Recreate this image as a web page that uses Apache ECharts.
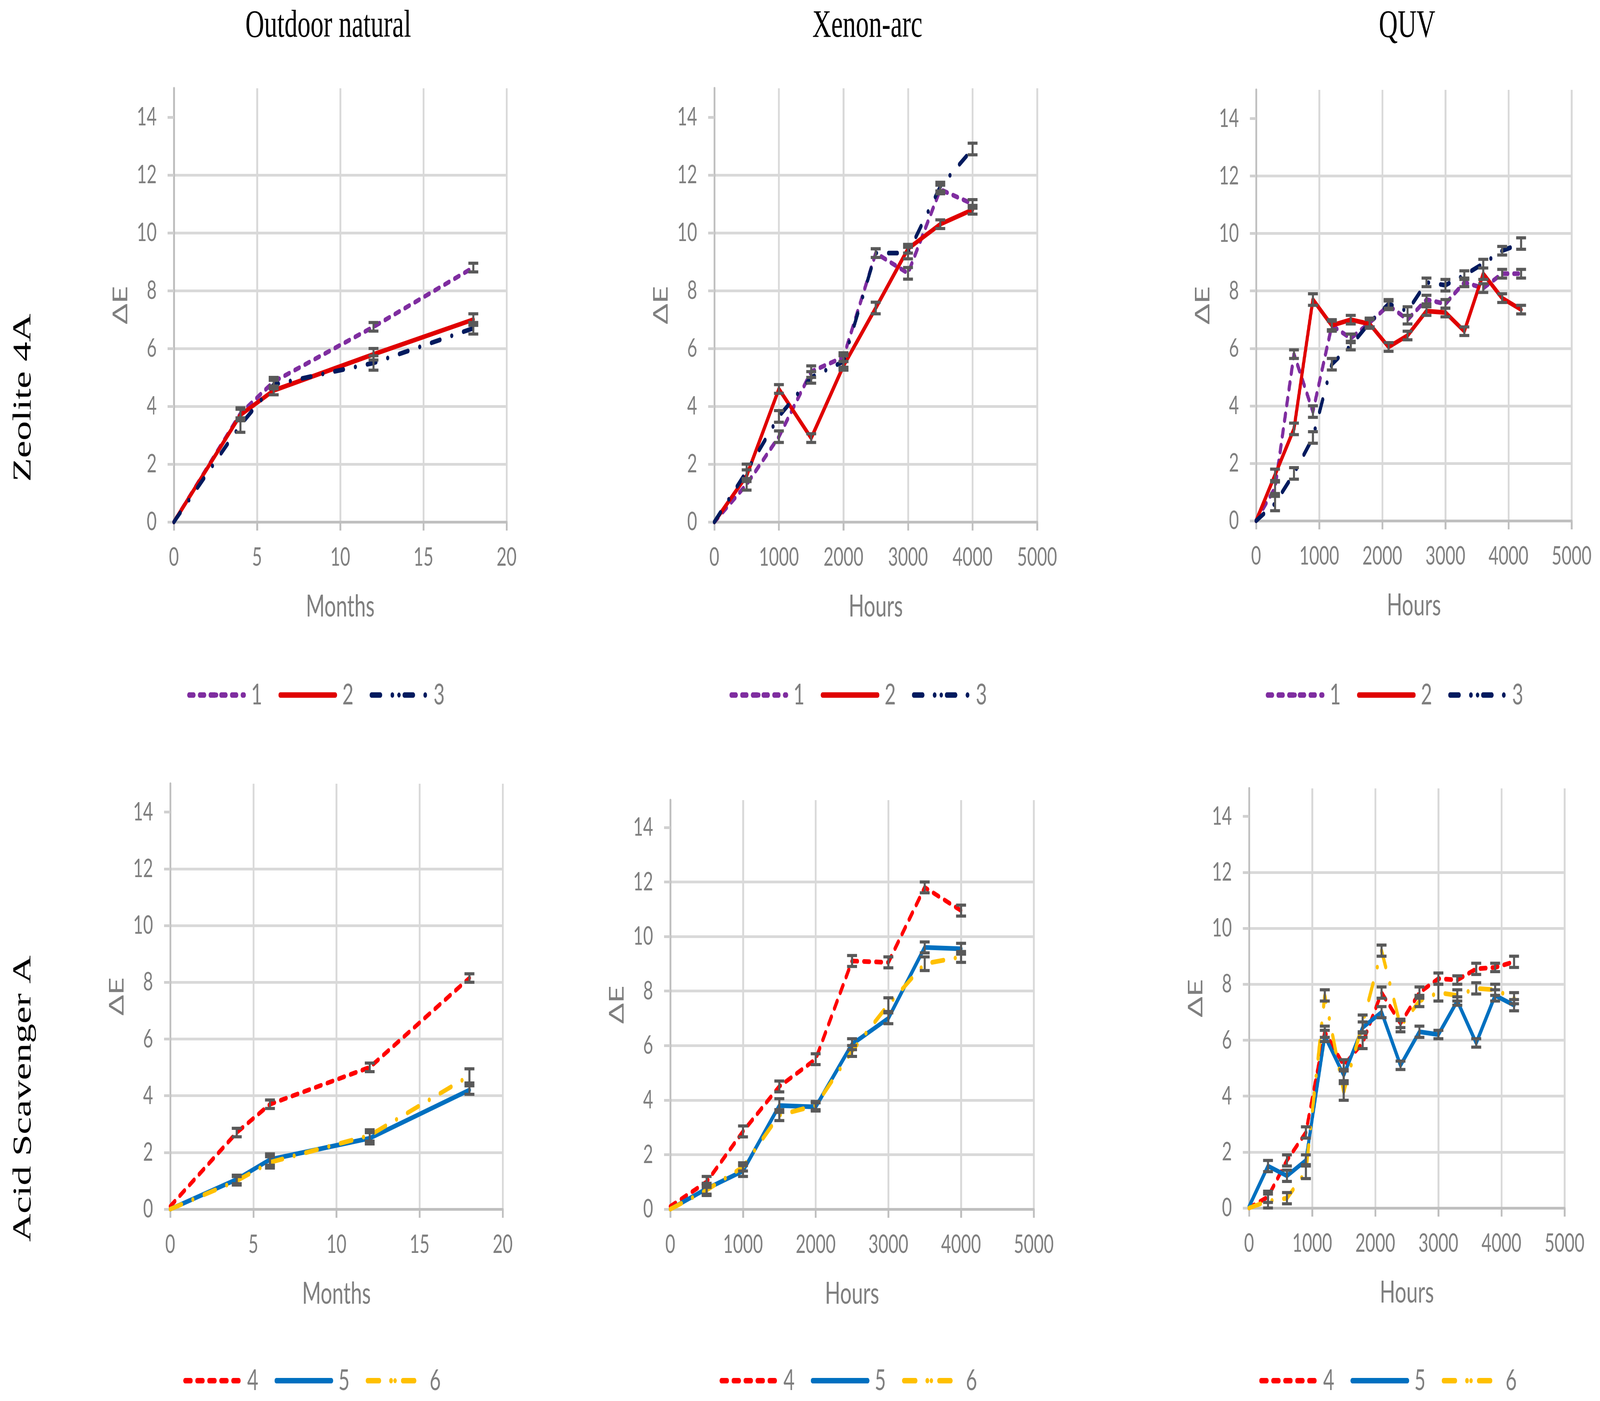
<!DOCTYPE html>
<html><head><meta charset="utf-8">
<script src="https://cdn.jsdelivr.net/npm/echarts@6/dist/echarts.min.js"></script>
<style>
html,body{margin:0;padding:0;background:#fff;overflow:hidden;width:100%;height:100%}
#wrap{position:relative;width:100vw;height:100vh;overflow:hidden}
#c{width:6137px;height:3586px;transform-origin:0 0;position:absolute;left:0;top:0}
</style>
</head><body><div id="wrap"><div id="c"></div></div>
<script>
// ---------- tick labels ----------
const yTicks = [0, 2, 4, 6, 8, 10, 12, 14];
const monthTicks = [0, 5, 10, 15, 20];
const hourTicks = [0, 1000, 2000, 3000, 4000, 5000];

// ---------- categories (x values) ----------
const months = [0, 4, 6, 12, 18];
const xenonHours = [0, 500, 1000, 1500, 2000, 2500, 3000, 3500, 4000];
const quvHours = [0, 300, 600, 900, 1200, 1500, 1800, 2100, 2400, 2700, 3000, 3300, 3600, 3900, 4200];

// ---------- Zeolite 4A : Outdoor natural ----------
const zOut1 = [0, 3.75, 4.85, 6.75, 8.8];
const zOut2 = [0, 3.7, 4.55, 5.8, 7.0];
const zOut3 = [0, 3.35, 4.75, 5.5, 6.7];
const zOut1e = [0, 0.2, 0.15, 0.15, 0.15];
const zOut2e = [0, 0.2, 0.15, 0.2, 0.2];
const zOut3e = [0, 0.25, 0.15, 0.25, 0.2];

// ---------- Zeolite 4A : Xenon-arc ----------
const zXe1 = [0, 1.3, 2.95, 5.2, 5.7, 9.3, 8.6, 11.5, 11.0];
const zXe2 = [0, 1.6, 4.6, 2.9, 5.4, 7.4, 9.45, 10.3, 10.8];
const zXe3 = [0, 1.75, 3.65, 5.0, 5.55, 9.3, 9.3, 11.6, 12.9];
const zXe1e = [0, 0.2, 0.2, 0.2, 0.15, 0.15, 0.2, 0.15, 0.15];
const zXe2e = [0, 0.2, 0.15, 0.15, 0.15, 0.2, 0.15, 0.15, 0.15];
const zXe3e = [0, 0.25, 0.2, 0.2, 0.2, 0.15, 0.2, 0.15, 0.2];

// ---------- Zeolite 4A : QUV ----------
const zQ1 = [0, 1.15, 5.8, 3.8, 6.8, 6.35, 6.9, 7.5, 7.0, 7.7, 7.55, 8.3, 8.1, 8.6, 8.6];
const zQ2 = [0, 1.6, 3.2, 7.7, 6.8, 7.0, 6.85, 6.05, 6.45, 7.3, 7.25, 6.6, 8.6, 7.75, 7.35];
const zQ3 = [0, 0.6, 1.65, 2.9, 5.45, 6.1, 6.9, 7.55, 7.3, 8.3, 8.2, 8.55, 8.95, 9.4, 9.65];
const zQ1e = [0, 0.2, 0.15, 0.2, 0.2, 0.15, 0.15, 0.15, 0.15, 0.15, 0.15, 0.15, 0.15, 0.15, 0.15];
const zQ2e = [0, 0.2, 0.2, 0.2, 0.15, 0.15, 0.15, 0.15, 0.15, 0.15, 0.15, 0.15, 0.2, 0.15, 0.15];
const zQ3e = [0, 0.25, 0.2, 0.2, 0.2, 0.15, 0.15, 0.15, 0.15, 0.15, 0.2, 0.15, 0.15, 0.15, 0.2];

// ---------- Acid Scavenger A : Outdoor natural ----------
const aOut4 = [0.1, 2.7, 3.7, 5.0, 8.15];
const aOut5 = [0, 1.05, 1.75, 2.5, 4.2];
const aOut6 = [0, 1.0, 1.65, 2.6, 4.7];
const aOut4e = [0, 0.15, 0.15, 0.15, 0.15];
const aOut5e = [0, 0.15, 0.2, 0.2, 0.15];
const aOut6e = [0, 0.15, 0.2, 0.2, 0.25];

// ---------- Acid Scavenger A : Xenon-arc ----------
const aXe4 = [0.1, 1.0, 2.85, 4.5, 5.5, 9.1, 9.05, 11.8, 10.95];
const aXe5 = [0, 0.75, 1.4, 3.8, 3.75, 6.05, 7.0, 9.6, 9.55];
const aXe6 = [0, 0.7, 1.55, 3.45, 3.8, 5.8, 7.5, 9.0, 9.25];
const aXe4e = [0, 0.2, 0.2, 0.2, 0.2, 0.2, 0.2, 0.2, 0.2];
const aXe5e = [0, 0.2, 0.2, 0.25, 0.15, 0.2, 0.2, 0.2, 0.2];
const aXe6e = [0, 0.2, 0.15, 0.2, 0.15, 0.2, 0.25, 0.25, 0.2];

// ---------- Acid Scavenger A : QUV ----------
const aQ4 = [0, 0.4, 1.7, 2.7, 6.3, 5.1, 5.9, 7.7, 6.6, 7.7, 8.2, 8.15, 8.55, 8.6, 8.8];
const aQ5 = [0.05, 1.5, 1.15, 1.7, 6.15, 4.75, 6.45, 7.0, 5.1, 6.3, 6.2, 7.4, 5.9, 7.6, 7.25];
const aQ6 = [0, 0.25, 0.35, 1.3, 7.6, 4.15, 6.6, 9.2, 6.5, 7.4, 7.7, 7.6, 7.85, 7.8, 7.5];
const aQ4e = [0, 0.2, 0.2, 0.2, 0.2, 0.2, 0.2, 0.2, 0.15, 0.2, 0.2, 0.15, 0.2, 0.15, 0.2];
const aQ5e = [0, 0.2, 0.2, 0.2, 0.2, 0.2, 0.2, 0.2, 0.15, 0.2, 0.15, 0.15, 0.15, 0.2, 0.2];
const aQ6e = [0, 0.25, 0.2, 0.25, 0.2, 0.3, 0.3, 0.2, 0.2, 0.2, 0.3, 0.2, 0.2, 0.2, 0.2];

// ---------- texts ----------
const columnTitles = ['Outdoor natural', 'Xenon-arc', 'QUV'];
const rowTitles = ['Zeolite 4A', 'Acid Scavenger A'];

// ---------- styles ----------
const SANS = 'Lato, "Open Sans", "DejaVu Sans", sans-serif';
const SERIF = '"Liberation Serif", "DejaVu Serif", serif';
const GRAY = '#7F7F7F';
const LW = 12;
const seriesStyle = {
  '1': { color: '#7F2DA0', type: [18, 23] },
  '2': { color: '#E00000', type: 'solid' },
  '3': { color: '#001A5E', type: [34, 46, 0.1, 46] },
  '4': { color: '#FF0000', type: [22, 24] },
  '5': { color: '#0070C0', type: 'solid' },
  '6': { color: '#FFC000', type: [45, 45, 0.1, 45] }
};

const panels = [
  { grid: { left: 667, top: 226, width: 1276, height: 1110 }, x: months, xt: monthTicks, xname: 'Months',
    s: [['1', zOut1, zOut1e], ['2', zOut2, zOut2e], ['3', zOut3, zOut3e]], lg: { left: 718, top: 1742 } },
  { grid: { left: 2740, top: 226, width: 1238, height: 1110 }, x: xenonHours, xt: hourTicks, xname: 'Hours',
    s: [['1', zXe1, zXe1e], ['2', zXe2, zXe2e], ['3', zXe3, zXe3e]], lg: { left: 2798, top: 1742 } },
  { grid: { left: 4818, top: 230, width: 1210, height: 1103 }, x: quvHours, xt: hourTicks, xname: 'Hours',
    s: [['1', zQ1, zQ1e], ['2', zQ2, zQ2e], ['3', zQ3, zQ3e]], lg: { left: 4855, top: 1742 } },
  { grid: { left: 653, top: 2006, width: 1275, height: 1089 }, x: months, xt: monthTicks, xname: 'Months',
    s: [['4', aOut4, aOut4e], ['5', aOut5, aOut5e], ['6', aOut6, aOut6e]], lg: { left: 703, top: 3497 } },
  { grid: { left: 2571, top: 2048, width: 1394, height: 1047 }, x: xenonHours, xt: hourTicks, xname: 'Hours',
    s: [['4', aXe4, aXe4e], ['5', aXe5, aXe5e], ['6', aXe6, aXe6e]], lg: { left: 2760, top: 3497 } },
  { grid: { left: 4791, top: 2018, width: 1210, height: 1074 }, x: quvHours, xt: hourTicks, xname: 'Hours',
    s: [['4', aQ4, aQ4e], ['5', aQ5, aQ5e], ['6', aQ6, aQ6e]], lg: { left: 4830, top: 3497 } }
];

function errRender(params, api) {
  const x = api.value(0), y = api.value(1), e = api.value(2);
  const p1 = api.coord([x, y + e]);
  const p2 = api.coord([x, y - e]);
  const hw = 19;
  const st = { stroke: '#595959', lineWidth: 8 };
  return { type: 'group', children: [
    { type: 'line', shape: { x1: p1[0], y1: p1[1], x2: p2[0], y2: p2[1] }, style: st },
    { type: 'line', shape: { x1: p1[0] - hw, y1: p1[1], x2: p1[0] + hw, y2: p1[1] }, style: st },
    { type: 'line', shape: { x1: p2[0] - hw, y1: p2[1], x2: p2[0] + hw, y2: p2[1] }, style: st }
  ] };
}

const option = { animation: false, backgroundColor: '#ffffff',
  grid: [], xAxis: [], yAxis: [], series: [], legend: [], graphic: [] };

panels.forEach((p, i) => {
  option.grid.push(Object.assign({ containLabel: false }, p.grid));
  option.xAxis.push({
    gridIndex: i, type: 'value', min: p.xt[0], max: p.xt[p.xt.length - 1], interval: p.xt[1] - p.xt[0],
    name: p.xname, nameLocation: 'middle', nameGap: 178,
    nameTextStyle: { fontSize: 78, color: GRAY, fontFamily: SANS },
    axisLine: { show: true, onZero: false, lineStyle: { color: '#BFBFBF', width: 7 } },
    axisTick: { show: true, length: 22, lineStyle: { color: '#BFBFBF', width: 7 } },
    axisLabel: { margin: 58, fontSize: 66, color: GRAY, fontFamily: SANS, formatter: v => String(v) },
    splitLine: { show: true, lineStyle: { color: '#D9D9D9', width: 7 } }
  });
  option.yAxis.push({
    gridIndex: i, type: 'value', min: 0, max: 15,
    name: 'ΔE', nameLocation: 'middle', nameGap: 165,
    nameTextStyle: { fontSize: 78, color: GRAY, fontFamily: SANS },
    axisLine: { show: true, lineStyle: { color: '#BFBFBF', width: 7 } },
    axisTick: { show: true, length: 24, customValues: yTicks, lineStyle: { color: '#D0D0D0', width: 7 } },
    axisLabel: { margin: 66, fontSize: 66, color: GRAY, fontFamily: SANS, customValues: yTicks, formatter: v => String(v) },
    splitLine: { show: true, showMaxLine: false, lineStyle: { color: '#D9D9D9', width: 7 } }
  });
  p.s.forEach(([name, ys, es]) => {
    const st = seriesStyle[name];
    option.series.push({
      type: 'line', name: name, xAxisIndex: i, yAxisIndex: i,
      data: p.x.map((v, j) => [v, ys[j]]),
      symbol: 'none', showSymbol: false, z: 3,
      lineStyle: { color: st.color, width: LW, type: st.type, cap: 'round', join: 'round' },
      itemStyle: { color: st.color }
    });
  });
  p.s.forEach(([name, ys, es]) => {
    const d = [];
    p.x.forEach((v, j) => { if (es[j] > 0) d.push([v, ys[j], es[j]]); });
    option.series.push({
      type: 'custom', xAxisIndex: i, yAxisIndex: i, z: 4, silent: true,
      encode: { x: 0, y: 1 }, renderItem: errRender, data: d
    });
  });
  option.legend.push({
    data: p.s.map(s => s[0]), left: p.lg.left, top: p.lg.top, padding: 0,
    orient: 'horizontal', itemWidth: 211, itemHeight: 16, itemGap: 62, selectedMode: false,
    lineStyle: { width: 14 },
    textStyle: { fontSize: 74, color: GRAY, fontFamily: SANS, padding: [0, 0, 0, 22] }
  });
});

const titleX = [1259, 3327, 5397];
columnTitles.forEach((t, k) => {
  option.graphic.push({ type: 'text', x: titleX[k], y: 68,
    style: { text: t, font: '100px ' + SERIF, fill: '#000', align: 'center', verticalAlign: 'middle' } });
});
const rowY = [1018, 2812];
rowTitles.forEach((t, k) => {
  option.graphic.push({ type: 'text', x: 91, y: rowY[k], rotation: Math.PI / 2,
    style: { text: t, font: '100px ' + SERIF, fill: '#000', align: 'center', verticalAlign: 'middle' } });
});

// The window may be narrower than the requested 6137x3586 frame:
// map the 6137x3586 drawing onto the whole window.
const el = document.getElementById('c');
const sx = window.innerWidth / 6137, sy = window.innerHeight / 3586;
el.style.transform = 'scale(' + sx + ',' + sy + ')';
const chart = echarts.init(el, null, { width: 6137, height: 3586, devicePixelRatio: 1 });
chart.setOption(option);
</script>
</body></html>
